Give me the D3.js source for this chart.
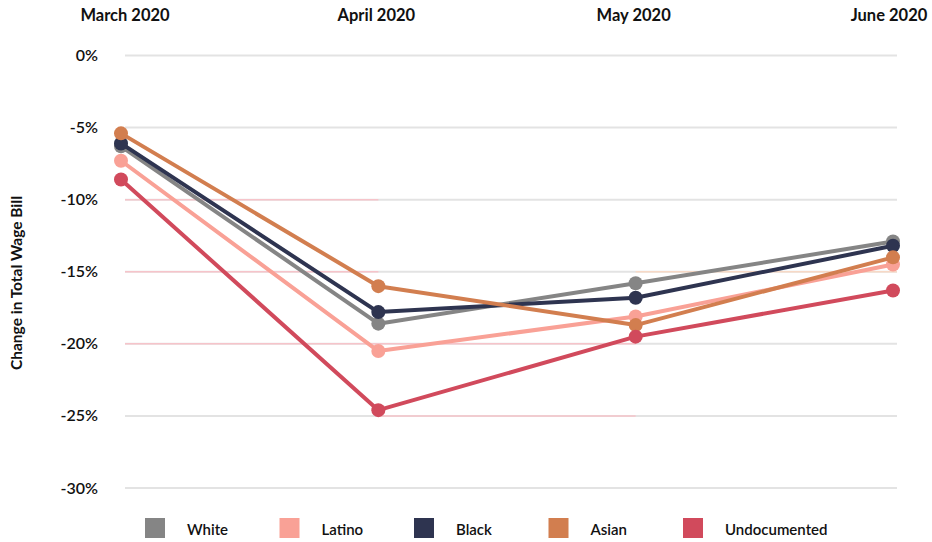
<!DOCTYPE html>
<html>
<head>
<meta charset="utf-8">
<script src="https://cdn.jsdelivr.net/npm/d3@7"></script>
<style>
  body { margin: 0; background: #fff; }
  svg text { font-family: Lato, "Open Sans", sans-serif; fill: #111; }
</style>
</head>
<body>
<div id="chart"></div>
<script>
var months = ["March 2020", "April 2020", "May 2020", "June 2020"];
var groups = ["White", "Latino", "Black", "Asian", "Undocumented"];
var colors = ["#858585", "#f9a196", "#2e3450", "#d27e4f", "#d14a5c"];
var white = [-6.3, -18.6, -15.8, -12.9];
var latino = [-7.3, -20.5, -18.1, -14.5];
var black = [-6.1, -17.8, -16.8, -13.2];
var asian = [-5.4, -16.0, -18.7, -14.0];
var undocumented = [-8.6, -24.6, -19.5, -16.3];
var yTicks = [0, -5, -10, -15, -20, -25, -30];
// faint tinted gridline pieces seen in the original
var tints = [
	[-10, 0, 1, "#f6c4ca"],
	[-15, 0, 1, "#f6c4ca"],
	[-20, 0, 2, "#f6c4ca"],
	[-25, 1, 2, "#f6c4ca"],
	[-15, 2, 3, "#f7d9c6"]
];

var seriesValues = [white, latino, black, asian, undocumented];

var width = 932, height = 542;
var svg = d3.select("#chart").append("svg")
	.attr("width", width).attr("height", height);

var x = d3.scalePoint().domain(months).range([121, 893]);
var y = d3.scaleLinear().domain([0, -30]).range([55.5, 488]);
var gridLeft = 125, gridRight = 897;

// gridlines
svg.append("g").selectAll("line").data(yTicks).enter().append("line")
	.attr("x1", gridLeft).attr("x2", gridRight)
	.attr("y1", function(d) { return y(d); })
	.attr("y2", function(d) { return y(d); })
	.attr("stroke", "#e3e3e3")
	.attr("stroke-width", 2);

svg.append("g").selectAll("line").data(tints).enter().append("line")
	.attr("x1", function(d) { return d[1] == 0 ? gridLeft : x(months[d[1]]); })
	.attr("x2", function(d) { return d[2] == 3 ? gridRight : x(months[d[2]]); })
	.attr("y1", function(d) { return y(d[0]); })
	.attr("y2", function(d) { return y(d[0]); })
	.attr("stroke", function(d) { return d[3]; })
	.attr("stroke-width", 1.5);

// y tick labels
svg.append("g").selectAll("text").data(yTicks).enter().append("text")
	.attr("x", 98)
	.attr("y", function(d) { return y(d) + 5.5; })
	.attr("text-anchor", "end")
	.style("font-size", "16px")
	.style("font-weight", "600")
	.text(function(d) { return d + "%"; });

// month labels on top
svg.append("g").selectAll("text").data(months).enter().append("text")
	.attr("x", function(d, i) { return i == 3 ? x(d) - 4 : x(d) + (i == 0 ? 4 : -2); })
	.attr("y", 21)
	.attr("text-anchor", "middle")
	.style("font-size", "16.5px")
	.style("font-weight", "700")
	.text(function(d) { return d; });

// axis title
svg.append("text")
	.attr("transform", "translate(22,283) rotate(-90)")
	.attr("text-anchor", "middle")
	.style("font-size", "15.5px")
	.style("font-weight", "700")
	.text("Change in Total Wage Bill");

var line = d3.line()
	.x(function(d, i) { return x(months[i]); })
	.y(function(d) { return y(d); });

seriesValues.forEach(function(vals, k) {
	var g = svg.append("g").attr("class", "series");
	g.append("path")
		.attr("d", line(vals))
		.attr("fill", "none")
		.attr("stroke", colors[k])
		.attr("stroke-width", 4)
		.attr("stroke-linejoin", "round");
	g.selectAll("circle").data(vals).enter().append("circle")
		.attr("cx", function(d, i) { return x(months[i]); })
		.attr("cy", function(d) { return y(d); })
		.attr("r", 7)
		.style("fill", colors[k]);
});

// legend
var legend = svg.append("g").selectAll("g").data(groups).enter().append("g")
	.attr("transform", function(d, i) { return "translate(" + (145 + i * 134.5) + ",518)"; });
legend.append("rect")
	.attr("width", 20).attr("height", 20)
	.style("fill", function(d, i) { return colors[i]; });
legend.append("text")
	.attr("x", 42).attr("y", 17)
	.style("font-size", "15px")
	.style("font-weight", "600")
	.text(function(d) { return d; });
</script>
</body>
</html>
